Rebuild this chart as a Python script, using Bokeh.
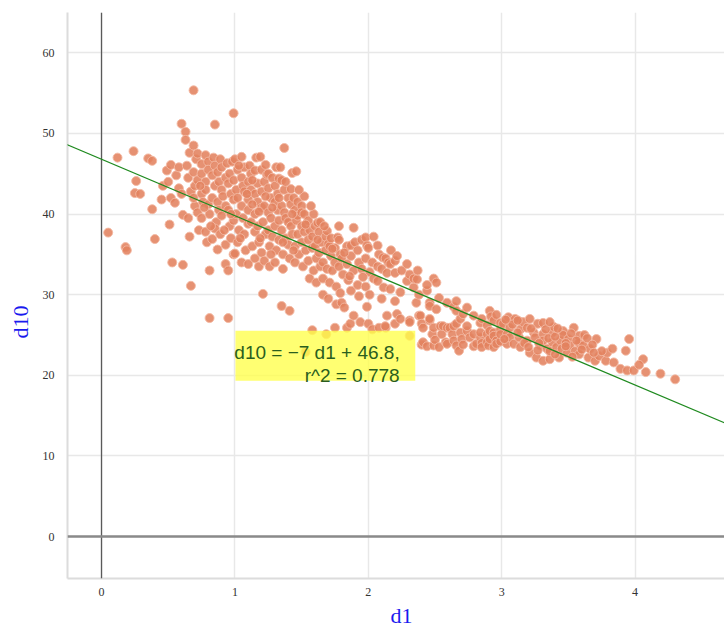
from bokeh.plotting import figure
from bokeh.models import Range1d, Span, Slope, FixedTicker, Title
from bokeh.core.properties import value
from bokeh.embed import file_html
from bokeh.resources import INLINE

d1 = [
0.05,0.12,0.18,0.19,0.24,0.26,0.25,0.29,0.35,0.38,
0.38,0.40,0.45,0.46,0.49,0.50,0.51,0.52,0.52,0.53,
0.55,0.56,0.58,0.58,0.60,0.60,0.61,0.61,0.63,0.63,
0.64,0.65,0.65,0.66,0.66,0.67,0.67,0.69,0.69,0.69,
0.70,0.70,0.71,0.72,0.72,0.72,0.73,0.75,0.75,0.75,
0.76,0.75,0.78,0.78,0.78,0.78,0.79,0.80,0.80,0.80,
0.81,0.81,0.81,0.83,0.83,0.83,0.84,0.85,0.85,0.85,
0.86,0.85,0.87,0.87,0.87,0.88,0.88,0.89,0.89,0.90,
0.91,0.90,0.90,0.93,0.93,0.93,0.93,0.94,0.95,0.95,
0.95,0.96,0.95,0.96,0.97,0.97,0.98,0.99,0.99,0.99,
0.99,0.99,1.00,1.00,1.01,1.01,1.02,1.02,1.03,1.02,
1.05,1.05,1.05,1.06,1.05,1.06,1.07,1.07,1.08,1.07,
1.10,1.10,1.10,1.10,1.11,1.10,1.12,1.12,1.13,1.12,
1.15,1.15,1.15,1.15,1.15,1.16,1.17,1.17,1.18,1.17,
1.18,1.19,1.20,1.20,1.20,1.21,1.20,1.21,1.22,1.22,
1.23,1.22,1.23,1.24,1.25,1.25,1.25,1.26,1.25,1.26,
1.27,1.27,1.28,1.28,1.30,1.30,1.30,1.31,1.30,1.31,
1.32,1.32,1.33,1.33,1.33,1.34,1.35,1.35,1.35,1.36,
1.35,1.36,1.37,1.37,1.37,1.38,1.38,1.40,1.40,1.40,
1.41,1.41,1.42,1.42,1.43,1.42,1.43,1.44,1.45,1.45,
1.45,1.46,1.46,1.47,1.47,1.48,1.47,1.50,1.50,1.50,
1.51,1.53,1.50,1.52,1.52,1.53,1.52,1.55,1.55,1.55,
1.56,1.56,1.58,1.58,1.59,1.58,1.59,1.60,1.60,1.61,
1.61,1.62,1.63,1.63,1.64,1.64,1.65,1.66,1.66,1.66,
1.685,1.68,1.68,1.69,1.69,1.70,1.71,1.71,1.70,1.72,
1.72,1.73,1.75,1.75,1.75,1.76,1.76,1.77,1.78,1.78,
1.78,1.79,1.79,1.80,1.81,1.80,1.82,1.84,1.84,1.84,
1.85,1.865,1.87,1.87,1.87,1.89,1.89,1.89,1.90,1.92,
1.92,1.93,1.93,1.94,1.95,1.95,1.98,1.98,1.98,1.99,
1.99,2.00,2.00,2.01,2.01,2.03,2.03,2.04,2.04,2.07,
2.07,2.07,2.08,2.08,2.10,2.10,2.11,2.115,2.13,2.127,
2.13,2.14,2.14,2.15,2.165,2.165,2.17,2.20,2.20,2.20,
2.20,2.215,2.215,2.24,2.24,2.25,2.29,2.29,2.31,2.31,
2.31,2.31,2.34,2.34,2.36,2.365,2.37,2.38,2.38,2.39,
2.40,2.40,2.41,2.41,2.44,2.44,2.44,2.46,2.46,2.46,
2.46,2.48,2.49,2.49,2.49,2.50,2.51,2.51,2.53,2.53,
2.54,2.55,2.56,2.58,2.59,2.59,2.59,2.61,2.63,2.64,
2.64,2.64,2.66,2.66,2.66,2.66,2.68,2.69,2.69,2.70,
2.71,2.71,2.74,2.74,2.74,2.76,2.79,2.79,2.79,2.81,
2.84,2.84,2.84,2.85,2.85,2.85,2.89,2.89,2.89,2.90,
2.91,2.91,2.91,2.92,2.94,2.94,2.94,2.94,2.96,2.96,
2.96,2.99,2.99,2.99,2.99,3.01,3.04,3.04,3.05,3.06,
3.06,3.09,3.10,3.13,3.14,3.14,3.16,3.19,3.19,3.21,
3.21,3.24,3.25,3.26,3.27,3.29,3.31,3.31,3.31,3.31,
3.34,3.36,3.36,3.38,3.38,3.39,3.41,3.43,3.44,3.45,
3.46,3.46,3.49,3.50,3.51,3.54,3.55,3.58,3.58,3.58,
3.61,3.62,3.65,3.66,3.70,3.71,3.73,3.78,3.79,3.83,
3.84,3.89,3.93,3.94,3.955,3.99,4.06,4.03,4.08,4.19,
4.30,
3.02,3.08,3.12,3.17,3.22,3.28,3.33,3.35,3.40,3.42,
3.48,3.52,3.56,3.60,3.64,3.68,3.20,3.27,3.40,3.53,
3.75,3.69,3.12,3.03,3.48,3.36,
0.92,0.97,1.04,1.09,1.13,1.18,1.23,1.28,1.33,1.38,
1.43,1.48,1.53,1.57,1.62,1.67,1.73,1.82,1.86,1.96,
1.13,1.19,1.27,1.36,1.44,0.82,0.77,0.74,0.69,1.03,
]

d10 = [
37.7,47.0,35.9,35.5,47.8,44.1,42.6,42.5,46.9,46.6,
40.6,36.9,41.8,43.5,45.4,44.0,38.7,42.0,46.1,34.0,
41.4,44.8,45.8,43.2,51.2,42.5,39.9,33.7,50.2,49.2,
46.0,39.5,44.5,47.6,37.2,31.1,42.8,55.35,48.5,45.2,
41.0,43.5,46.8,47.5,44.2,40.2,38.0,46.2,45.0,42.5,
41.5,39.5,47.3,44.0,43.0,37.8,36.5,46.5,45.5,41.2,
40.0,33.0,27.1,36.9,42.0,44.8,47.0,51.1,46.0,43.5,
39.0,38.2,35.6,45.2,41.5,44.0,40.5,37.5,46.8,43.0,
42.2,39.8,45.8,36.2,33.8,44.5,41.0,46.3,33.0,27.1,
43.8,38.5,40.5,45.0,42.5,37.0,46.5,52.5,44.2,41.8,
39.2,35.0,35.1,46.8,43.0,40.0,45.5,42.0,38.0,36.5,
34.0,44.5,41.0,39.5,47.1,43.5,42.8,37.5,35.5,45.8,
44.0,40.5,38.8,33.8,46.0,41.8,43.0,39.0,36.0,45.0,
42.5,40.0,37.8,34.5,45.4,47.0,41.5,38.5,36.5,43.8,
33.5,47.1,45.5,42.8,40.8,39.0,35.2,30.1,44.0,41.0,
37.5,34.2,46.1,44.9,43.2,40.2,38.0,36.0,45.0,33.5,
42.0,39.5,37.2,44.5,41.5,43.5,38.5,35.5,34.0,45.8,
40.5,42.5,36.8,39.2,44.4,45.8,44.2,41.0,38.0,35.0,
28.6,33.2,48.2,43.0,40.2,37.0,39.5,42.0,39.0,36.2,
34.5,28.0,43.1,41.2,45.1,38.5,37.5,42.0,40.5,36.0,
34.0,39.2,45.3,39.8,37.5,35.0,41.5,41.0,38.5,36.5,
33.5,22.9,40.2,40.0,37.8,35.5,42.2,39.2,36.8,34.2,
38.0,32.0,37.2,35.8,33.0,25.6,40.0,38.5,36.0,34.5,
31.5,38.9,37.8,35.2,33.5,39.0,36.5,34.0,32.0,30.0,
25.1,37.2,35.5,33.2,37.9,36.3,36.0,31.5,29.5,37.0,
34.8,33.0,25.9,35.8,34.0,31.0,28.8,37.1,38.5,36.8,
33.5,30.2,35.0,34.5,32.5,29.0,28.4,25.9,36.0,33.8,
31.8,26.4,34.8,36.1,30.5,38.3,27.4,33.0,36.5,35.5,
31.2,29.8,34.0,26.6,36.8,33.2,37.1,34.5,31.0,28.5,
36.1,26.4,35.8,32.8,30.0,25.7,34.0,37.2,32.0,36.1,
31.7,33.5,25.9,35.0,33.2,29.5,34.6,30.9,25.9,26.1,
34.5,27.4,32.7,34.0,33.8,30.7,35.5,32.7,34.2,29.2,
26.4,34.8,27.6,27.0,30.3,33.0,31.7,33.8,26.8,24.9,
32.5,26.6,30.9,32.0,29.0,31.9,33.0,27.4,30.0,27.4,
26.4,23.8,25.9,24.1,30.5,31.2,23.6,26.8,29.0,27.0,
28.6,25.1,25.9,32.0,23.7,24.4,31.5,28.2,29.6,23.5,
26.1,25.1,26.1,24.1,25.9,29.0,23.9,25.9,25.1,26.1,
28.5,24.3,28.0,29.2,23.7,26.4,23.05,25.3,27.0,24.5,
27.6,23.8,25.5,28.4,26.1,24.7,25.1,27.4,23.6,23.9,
24.7,26.5,25.3,27.0,24.0,23.5,25.1,26.2,24.1,23.7,
28.0,24.5,25.5,27.3,25.3,26.8,23.5,24.9,24.3,27.5,
23.9,24.2,25.7,25.1,26.5,26.4,23.9,25.1,27.2,25.9,
24.7,23.9,27.0,24.7,25.7,23.5,26.6,25.9,24.3,27.0,
22.8,25.3,24.7,22.2,26.4,23.7,25.1,24.3,21.8,26.5,
23.3,22.0,23.0,25.3,24.1,26.0,23.5,22.2,24.3,23.3,
25.5,25.0,22.8,24.5,23.7,25.9,23.0,24.9,22.6,24.0,
23.7,25.0,22.2,23.3,21.8,24.5,22.4,21.8,22.8,23.3,
21.6,20.8,23.05,20.6,24.5,20.6,22.0,21.3,20.4,20.2,
19.5,
24.5,26.3,25.3,24.0,25.8,24.0,25.7,24.6,24.8,25.8,
24.0,25.2,24.3,23.2,24.6,23.8,23.5,23.1,22.6,22.3,
23.0,22.8,26.8,26.9,23.6,26.6,
38.0,40.0,37.0,42.5,44.2,40.3,42.2,40.8,42.0,44.0,
40.0,43.0,38.7,41.0,36.8,38.5,35.7,35.2,32.3,32.2,
41.2,37.0,35.0,36.5,35.5,38.5,40.8,43.5,42.0,46.0,
]
assert len(d1) == len(d10)

x_ticks = [0, 1, 2, 3, 4]
y_ticks = [0, 10, 20, 30, 40, 50, 60]
x_lim = (-0.255, 4.67)
y_lim = (-5.2, 65.0)

slope = -7.0
intercept = 46.8
fit_lines = ["d10 = \u22127 d1 + 46.8,", "r^2 = 0.778"]
box_x = (1.004, 2.352)
box_y = (19.33, 25.53)
text_x = [2.235, 2.235]
text_y = [22.8, 19.95]

x_title = "d1"
y_title = "d10"
link_blue = "#1a1aee"

p = figure(width=724, height=630, output_backend="svg", toolbar_location=None,
           x_range=Range1d(*x_lim), y_range=Range1d(*y_lim),
           min_border_left=67, min_border_right=0, min_border_top=12,
           min_border_bottom=52)
p.outline_line_color = None
p.background_fill_color = "white"

p.xaxis.ticker = FixedTicker(ticks=x_ticks)
p.yaxis.ticker = FixedTicker(ticks=y_ticks)
for ax in (p.xaxis, p.yaxis):
    ax.axis_line_color = "#dcdcdc"
    ax.axis_line_width = 2
    ax.major_tick_line_color = None
    ax.minor_tick_line_color = None
    ax.major_label_text_font = "Liberation Serif"
    ax.major_label_text_font_size = "12px"
    ax.major_label_text_color = "#333333"
p.xaxis.major_label_standoff = 3
p.yaxis.major_label_standoff = 7

# axis titles as side-panel titles so they can be positioned along the axis
p.add_layout(Title(text=x_title, align="left", offset=323, standoff=5,
                   text_font="Liberation Serif", text_font_size="22px",
                   text_font_style="normal", text_color=link_blue), "below")
p.add_layout(Title(text=y_title, align="left", offset=240, standoff=10,
                   vertical_align="top",
                   text_font="Liberation Serif", text_font_size="22px",
                   text_font_style="normal", text_color=link_blue), "left")

p.xgrid.ticker = FixedTicker(ticks=x_ticks)
p.ygrid.ticker = FixedTicker(ticks=y_ticks)
p.grid.grid_line_color = "#e8e8e8"
p.grid.grid_line_width = 1.5

p.add_layout(Span(location=0, dimension="height", line_color="#5a5a5a", line_width=1.3))
p.add_layout(Span(location=0, dimension="width", line_color="#8a8a8a", line_width=2.5))

p.scatter(d1, d10, size=9, fill_color="#e3825f", fill_alpha=0.88,
          line_color="#f3b8a2", line_width=1, line_alpha=0.9)

p.add_layout(Slope(gradient=slope, y_intercept=intercept, line_color="#1f8a1f", line_width=1.3))

p.quad(left=[box_x[0]], right=[box_x[1]], bottom=[box_y[0]], top=[box_y[1]],
       fill_color="#ffff4a", fill_alpha=0.78, line_color=None)
p.text(x=text_x, y=text_y, text=fit_lines, text_align="right", text_baseline="alphabetic",
       text_font=value("Liberation Sans"), text_font_size="19px", text_color="#2a5e1e")

open("out.html", "w").write(file_html(p, INLINE))
